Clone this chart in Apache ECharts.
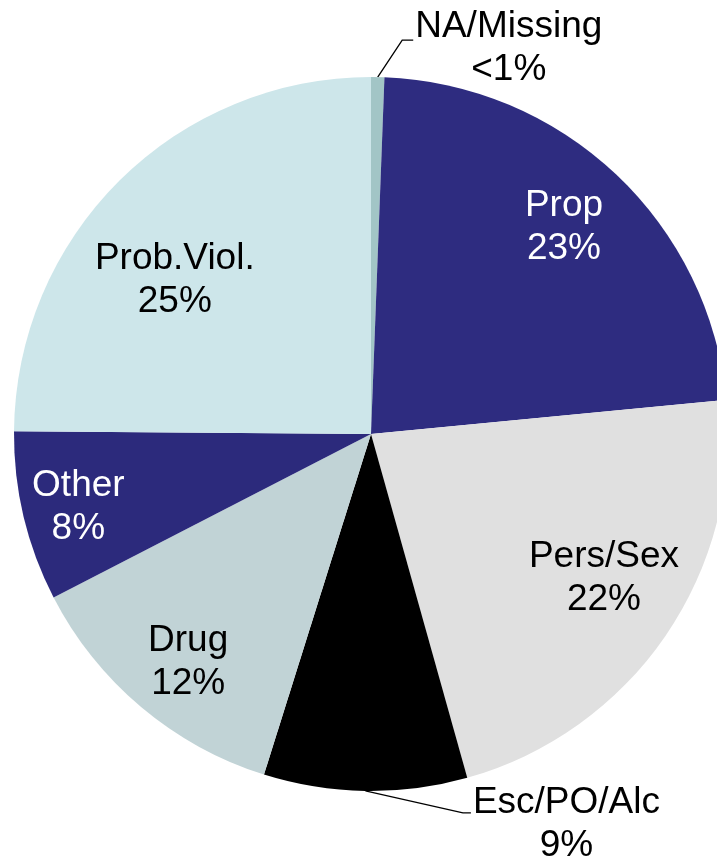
<!DOCTYPE html>
<html>
<head>
<meta charset="utf-8">
<script src="https://cdn.jsdelivr.net/npm/echarts@6/dist/echarts.min.js"></script>
<style>
html,body{margin:0;padding:0;background:#fff;}
#chart{width:717px;height:860px;}
</style>
</head>
<body>
<div id="chart"></div>
<script>
// Data (clockwise from 12 o'clock)
const categories = ['NA/Missing', 'Prop', 'Pers/Sex', 'Esc/PO/Alc', 'Drug', 'Other', 'Prob.Viol.'];
const shares = [0.6, 22.9, 22.2, 9.2, 12.6, 7.7, 24.9];
const pctLabels = ['<1%', '23%', '22%', '9%', '12%', '8%', '25%'];
const outsideLabelled = ['NA/Missing', 'Esc/PO/Alc'];

// Styles
const sliceColors = ['#A2C5C6', '#2E2C80', '#E0E0E0', '#000000', '#C1D3D6', '#2C2A7C', '#CDE6EA'];
const labelColors = ['#000', '#fff', '#000', '#000', '#000', '#fff', '#000'];
const FONT = "'Liberation Sans', Arial, Helvetica, sans-serif";
const FS = 37, LH = 43;

// small nudges of the in-slice labels (pixels), style only
const labelNudge = {
  'Prop': [-5, 3],
  'Pers/Sex': [-5, -19],
  'Drug': [3, 8],
  'Other': [-12, 6],
  'Prob.Viol.': [7, 51]
};

// leader line shapes (relative offsets from the slice edge anchor)
const leaderStyle = {
  'NA/Missing': {d1: [24.5, -37], d2: 11, ty: 8},
  'Esc/PO/Alc': {d1: [97.5, 22], d2: 8, ty: 11}
};

const chart = echarts.init(document.getElementById('chart'), null, {renderer: 'canvas'});

const baseData = categories.map((c, i) => ({
  name: c,
  value: shares[i],
  itemStyle: {color: sliceColors[i]}
}));

const option = {
  backgroundColor: '#fff',
  animation: false,
  series: [
    {
      type: 'pie',
      center: [371, 434],
      radius: 357,
      startAngle: 90,
      clockwise: true,
      avoidLabelOverlap: false,
      silent: true,
      itemStyle: {borderWidth: 0},
      label: {
        show: true,
        position: 'outside',
        fontFamily: FONT,
        fontSize: FS,
        lineHeight: LH,
        color: '#000',
        formatter: p => '{c|' + p.name + '}\n{c|' + pctLabels[p.dataIndex] + '}',
        rich: {c: {align: 'center', fontFamily: FONT, fontSize: FS, lineHeight: LH, color: '#000'}}
      },
      labelLine: {show: true, length: 20, length2: 10, lineStyle: {color: '#000', width: 1.3}},
      labelLayout: function (p) {
        const name = categories[p.dataIndex];
        const s = leaderStyle[name];
        if (!s || !p.labelLinePoints) return {};
        const a = p.labelLinePoints[0];
        const b = [a[0] + s.d1[0], a[1] + s.d1[1]];
        const c = [b[0] + s.d2, b[1]];
        return {
          x: c[0] + 2,
          y: c[1] + s.ty,
          align: 'left',
          verticalAlign: 'middle',
          labelLinePoints: [a, b, c]
        };
      },
      data: baseData.map(d => Object.assign({}, d, {
        label: {show: outsideLabelled.indexOf(d.name) >= 0},
        labelLine: {show: outsideLabelled.indexOf(d.name) >= 0}
      }))
    },
    {
      // transparent ring used only to place the in-slice labels at ~0.8 r
      type: 'pie',
      center: [371, 434],
      radius: [214, 357],
      startAngle: 90,
      clockwise: true,
      avoidLabelOverlap: false,
      silent: true,
      z: 3,
      itemStyle: {color: 'rgba(0,0,0,0)', borderWidth: 0},
      label: {
        show: true,
        position: 'inside',
        fontFamily: FONT,
        fontSize: FS,
        lineHeight: LH,
        align: 'center',
        formatter: p => p.name + '\n' + pctLabels[p.dataIndex]
      },
      labelLine: {show: false},
      labelLayout: function (p) {
        const n = labelNudge[categories[p.dataIndex]];
        if (!n) return {};
        const r = p.labelRect;
        return {
          x: r.x + r.width / 2 + n[0],
          y: r.y + r.height / 2 + n[1],
          align: 'center',
          verticalAlign: 'middle'
        };
      },
      data: categories.map((c, i) => ({
        name: c,
        value: shares[i],
        itemStyle: {color: 'rgba(0,0,0,0)'},
        label: {show: outsideLabelled.indexOf(c) < 0, color: labelColors[i]}
      }))
    }
  ]
};
chart.setOption(option);
</script>
</body>
</html>
